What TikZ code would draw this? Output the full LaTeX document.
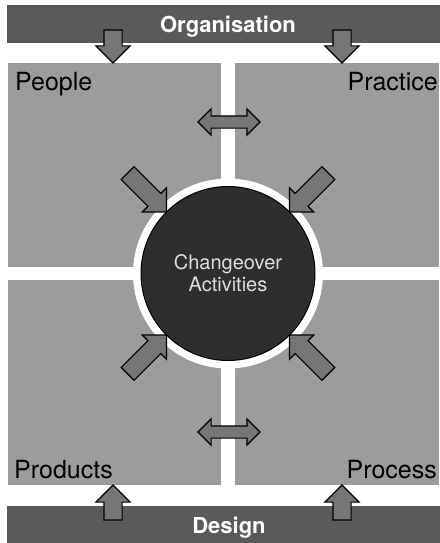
\documentclass[tikz,border=0pt]{standalone}
\usepackage{fontspec}
\setmainfont{TeX Gyre Heros}
\usetikzlibrary{shapes.geometric, shapes.arrows, positioning, calc}
\definecolor{quadgray}{HTML}{9C9C9C}
\definecolor{bargray}{HTML}{5A5A5A}
\definecolor{hubgray}{HTML}{2E2E2E}
\definecolor{arrowgray}{HTML}{767676}
\definecolor{hubtext}{HTML}{DDDDDD}
\tikzset{
  cm quad/.style={
    rectangle, fill=quadgray, inner sep=0pt, outer sep=0pt,
    minimum height=204pt
  },
  cm bar/.style={
    rectangle, fill=bargray, inner sep=0pt, outer sep=0pt,
    minimum width=442pt, minimum height=38pt
  },
  cm label/.style={
    font=\fontsize{25}{30}\selectfont, text=black, inner sep=0pt
  },
  cm title/.style={
    font=\fontsize{22}{26}\selectfont\bfseries, text=white, inner sep=0pt
  },
  cm hub/.style={
    circle, fill=hubgray, draw=black, line width=1pt,
    minimum size=174pt, inner sep=0pt, outer sep=0pt,
    align=center, text=hubtext, font=\fontsize{20}{22}\selectfont
  },
  cm ring/.style={
    circle, fill=white, minimum size=190pt, inner sep=0pt
  },
  cm arrow/.style={
    single arrow, draw=black, fill=arrowgray, line width=1.2pt,
    single arrow head extend=8pt, single arrow tip angle=90,
    inner xsep=0pt, inner ysep=8.5pt, outer sep=0pt,
    minimum width=33pt, anchor=tip
  },
  cm link/.style={
    double arrow, draw=black, fill=arrowgray, line width=1.2pt,
    double arrow head extend=7pt, double arrow tip angle=90,
    inner xsep=0pt, inner ysep=5.5pt, outer sep=0pt,
    minimum width=25pt, minimum height=62pt
  }
}
\begin{document}
\begin{tikzpicture}[x=1pt, y=-1pt]
  \fill[white] (0,0) rectangle (439,543);
  \useasboundingbox (0,0) rectangle (439,543);

  % quadrants
  \node (tl) [cm quad, minimum width=213pt] at (114.5,165) {};
  \node (tr) [cm quad, minimum width=204pt, right=14pt of tl] {};
  \node (bl) [cm quad, minimum width=213pt, minimum height=205pt, below=13pt of tl] {};
  \node (br) [cm quad, minimum width=204pt, minimum height=205pt, below=13pt of tr] {};

  % bars
  \node (org) [cm bar] at (228,24) {};
  \node (des) [cm bar, minimum height=37pt] at (228,524.5) {};
  \node (orgtxt) [cm title, anchor=base] at ($(org.center)+(0,9)$) {Organisation};
  \node (destxt) [cm title, anchor=base] at ($(des.center)+(1,8.5)$) {Design};

  % labels
  \node (people) [cm label, anchor=base west] at (15,90) {People};
  \node (practice) [cm label, anchor=base east] at (438,90) {Practice};
  \node (products) [cm label, anchor=base west] at (14,478) {Products};
  \node (process) [cm label, anchor=base east] at (437,478) {Process};

  % centre
  \coordinate (mid) at ($(tl.south east)!0.5!(br.north west)$);
  \node (ring) [cm ring] at (mid) {};
  \node (hub) [cm hub] at (mid) {Changeover\\Activities};

  % arrows into the hub
  \node (a1) [cm arrow, minimum height=55pt, rotate=-45] at (hub.135) {};
  \node (a2) [cm arrow, minimum height=55pt, rotate=-135] at (hub.45) {};
  \node (a3) [cm arrow, minimum height=55pt, rotate=45] at (hub.-135) {};
  \node (a4) [cm arrow, minimum height=55pt, rotate=135] at (hub.-45) {};

  % arrows from the bars
  \node (d1) [cm arrow, minimum height=33pt, rotate=-90] at (113,63) {};
  \node (d2) [cm arrow, minimum height=33pt, rotate=-90] at (342,63) {};
  \node (u1) [cm arrow, minimum height=35pt, rotate=90] at (113,485) {};
  \node (u2) [cm arrow, minimum height=35pt, rotate=90] at (342,485) {};

  % links between quadrants
  \node (l1) [cm link] at (229,122) {};
  \node (l2) [cm link] at (229,432) {};
\end{tikzpicture}
\end{document}
